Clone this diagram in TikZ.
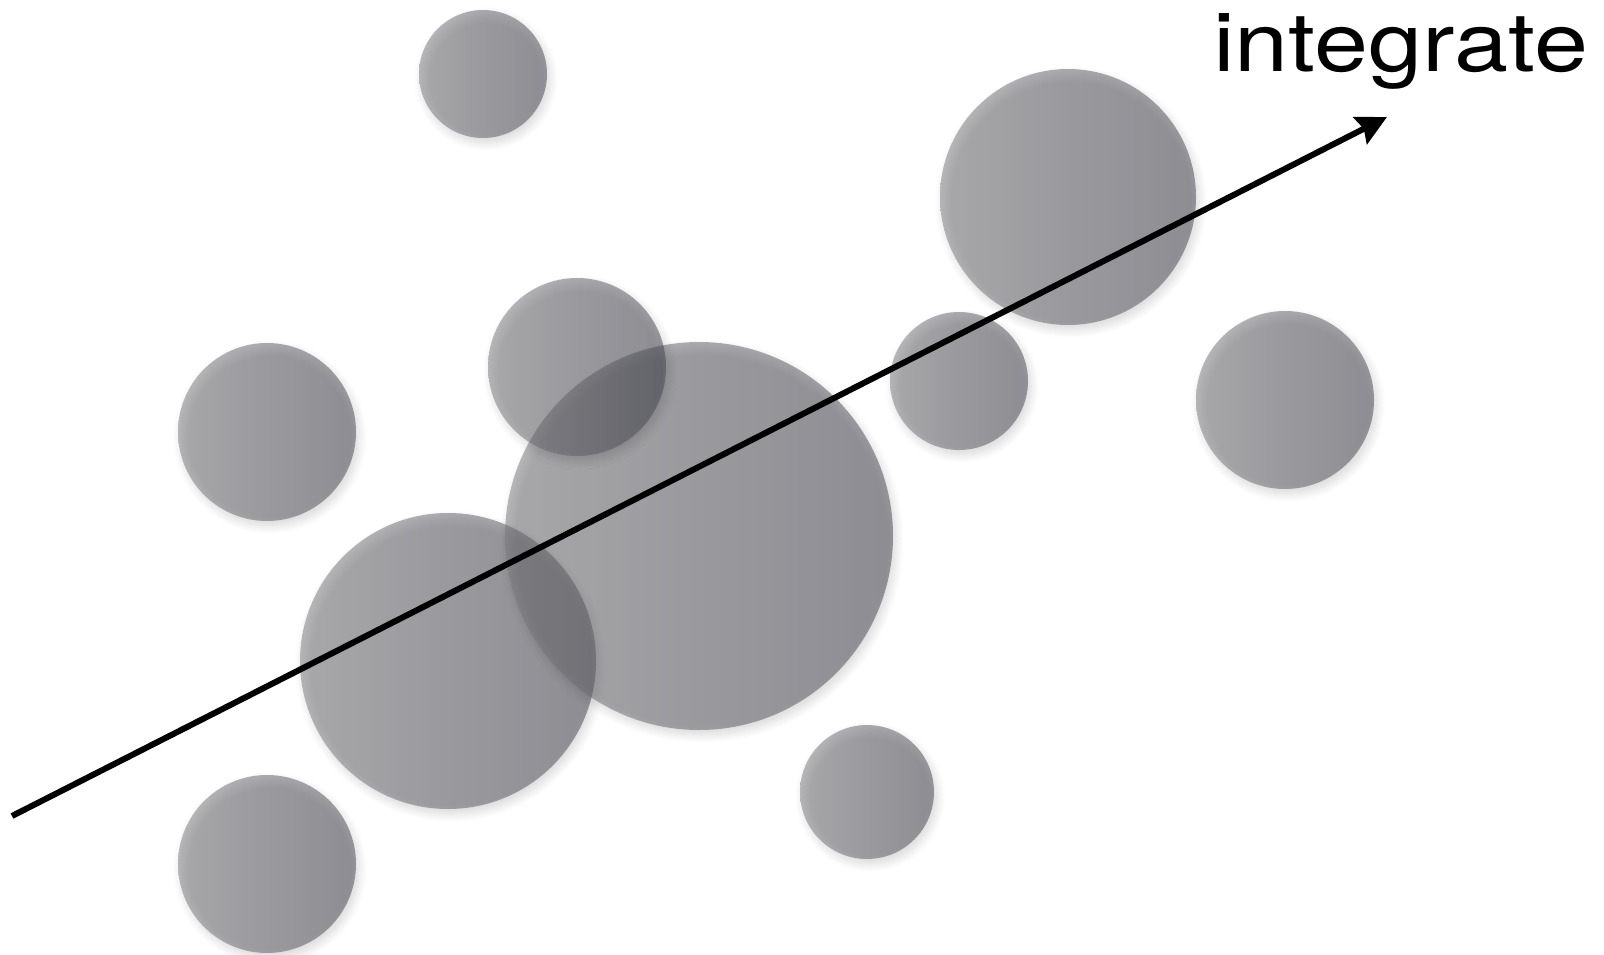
\documentclass[tikz,border=0pt]{standalone}
\usepackage{fontspec}
\setmainfont{TeX Gyre Heros}
\usetikzlibrary{arrows.meta,shadows.blur}
\definecolor{balllight}{RGB}{120,120,124}
\definecolor{balldark}{RGB}{66,66,78}
\tikzset{
  ball/.style={circle, inner sep=0pt, outer sep=0pt, minimum size=#1, left color=balllight, right color=balldark,
    fill opacity=0.507, draw=none,
    blur shadow={shadow xshift=3pt, shadow yshift=-5pt, shadow blur radius=8pt, shadow opacity=30, shadow blur steps=12}},
  flow/.style={line width=6pt, -{Triangle[length=30pt,width=30pt,inset=4pt]}},
  label/.style={font=\fontsize{82}{90}\selectfont, xscale=1.185, anchor=base west, inner sep=0pt}
}
\begin{document}
\begin{tikzpicture}[x=1pt,y=-1pt]
\useasboundingbox (0,0) rectangle (1604,955);
\node[ball=128pt] (c1) at (483,74) {};
\node[ball=256pt] (c2) at (1068,197) {};
\node[ball=178pt] (c4) at (267,432) {};
\node[ball=178pt] (c7) at (1285,400) {};
\node[ball=138pt] (c6) at (959,381) {};
\node[ball=134pt] (c9) at (867,792) {};
\node[ball=178pt] (c10) at (267,864) {};
\node[ball=296pt] (c8) at (448,661) {};
\node[ball=388pt] (c5) at (699,536) {};
\node[ball=178pt] (c3) at (577,367) {};
\coordinate (s) at (12,816);
\coordinate (e) at (1387,117);
\draw[flow] (s) -- (e);
\node[label] (t) at (1213,72) {integrate};
\end{tikzpicture}
\end{document}
